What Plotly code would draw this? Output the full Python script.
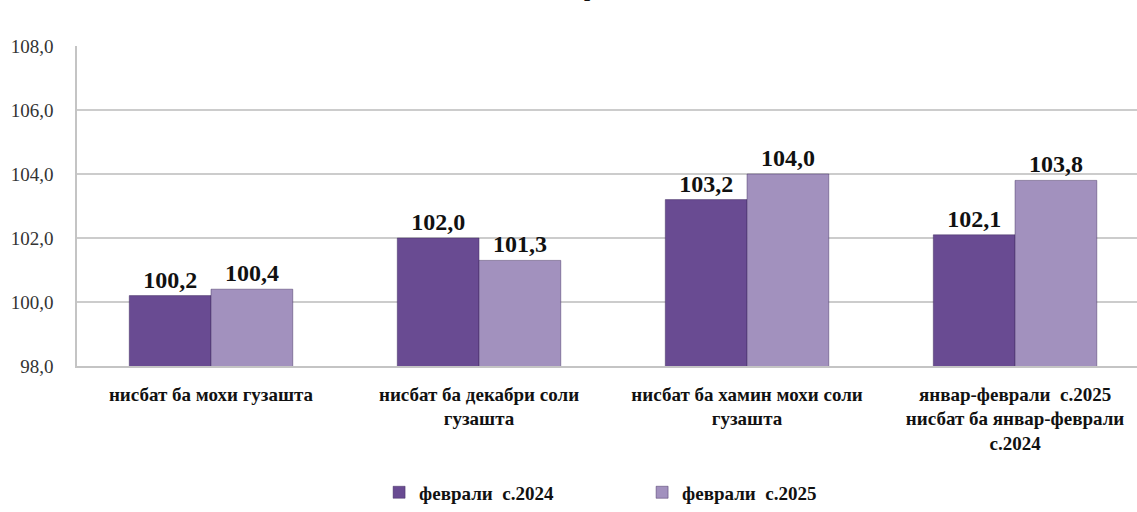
import plotly.graph_objects as go

# Category labels (x axis), series names and values
categories = [
    "нисбат ба мохи гузашта",
    "нисбат ба декабри соли<br>гузашта",
    "нисбат ба хамин мохи соли<br>гузашта",
    "январ-феврали  с.2025<br>нисбат ба январ-феврали<br>с.2024",
]
series_names = ["феврали\u00a0\u00a0с.2024", "феврали\u00a0\u00a0с.2025"]
values_2024 = [100.2, 102.0, 103.2, 102.1]
values_2025 = [100.4, 101.3, 104.0, 103.8]
y_ticks = [98, 100, 102, 104, 106, 108]

bar_colors = ["#694b92", "#a291be"]
serif = "Liberation Serif, Times New Roman, serif"

fig = go.Figure()
for name, vals, col in zip(series_names, [values_2024, values_2025], bar_colors):
    fig.add_trace(go.Bar(
        x=categories,
        y=vals,
        name=name,
        marker=dict(color=col, line=dict(color="rgba(60,40,90,0.45)", width=1)),
        texttemplate="%{y:.1f}",
        textposition="outside",
        textfont=dict(family=serif, size=24, color="#111111", weight="bold"),
        cliponaxis=False,
    ))

fig.update_layout(
    width=1137,
    height=512,
    margin=dict(l=77, r=0, t=46, b=142),
    paper_bgcolor="white",
    plot_bgcolor="white",
    separators=", ",
    barmode="group",
    bargap=0.39,
    bargroupgap=0,
    showlegend=True,
    legend=dict(
        orientation="h",
        x=0.285, xanchor="left",
        y=-0.395, yanchor="middle",
        font=dict(family=serif, size=19, color="#111111", weight="bold"),
        entrywidth=218,
        itemwidth=30,
    ),
    xaxis=dict(
        range=[-0.5, 3.455],
        showline=True, linecolor="#c4c4c4", linewidth=1.5,
        showgrid=False,
        tickfont=dict(family=serif, size=19, color="#111111", weight="bold"),
        ticklabelstandoff=10,
    ),
    yaxis=dict(
        range=[98, 108],
        tickvals=y_ticks,
        tickformat=".1f",
        showline=True, linecolor="#c4c4c4", linewidth=1.5,
        showgrid=True, gridcolor="#cccccc", gridwidth=1.5,
        tickfont=dict(family=serif, size=19, color="#333333"),
        ticklabelstandoff=18,
        zeroline=False,
    ),
    annotations=[
        # lower edge of the title line, which runs past the top of the canvas
        dict(
            text="<b>р</b>", xref="paper", yref="paper",
            x=(590 - 77) / 1060, y=1 + (46 - 2) / 324,
            xanchor="center", yanchor="bottom", showarrow=False,
            font=dict(family=serif, size=22, color="#111111"),
        )
    ],
)

fig.write_html("out.html")
